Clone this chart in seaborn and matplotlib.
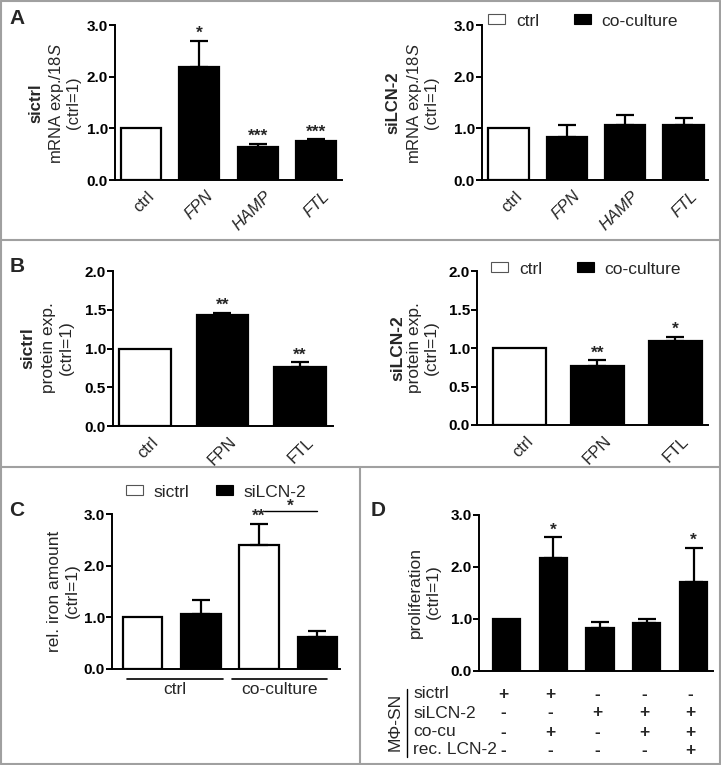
import numpy as np
import pandas as pd
import matplotlib
matplotlib.use("Agg")
import matplotlib.pyplot as plt
import seaborn as sns
from matplotlib.patches import Patch
from matplotlib.lines import Line2D
import matplotlib.transforms as mtransforms

sns.set_theme(style="ticks")
plt.rcParams['font.family'] = ['Liberation Sans', 'DejaVu Sans']
plt.rcParams['mathtext.fontset'] = 'custom'
plt.rcParams['mathtext.it'] = 'Liberation Sans:italic'
plt.rcParams['mathtext.rm'] = 'Liberation Sans'

# ---------------- data ----------------
a_labels = ["ctrl", "FPN", "HAMP", "FTL"]
a_sictrl_mean = [1.0, 2.18, 0.64, 0.75]
a_sictrl_err = [0.0, 0.51, 0.06, 0.04]
a_sictrl_sig = ["", "*", "***", "***"]
a_silcn_mean = [1.0, 0.84, 1.06, 1.06]
a_silcn_err = [0.0, 0.22, 0.19, 0.14]
a_silcn_sig = ["", "", "", ""]

b_labels = ["ctrl", "FPN", "FTL"]
b_sictrl_mean = [1.0, 1.43, 0.76]
b_sictrl_err = [0.0, 0.03, 0.06]
b_sictrl_sig = ["", "**", "**"]
b_silcn_mean = [1.0, 0.765, 1.09]
b_silcn_err = [0.0, 0.075, 0.055]
b_silcn_sig = ["", "**", "*"]

c_groups = ["ctrl", "co-culture"]
c_sirna = ["sictrl", "siLCN-2", "sictrl", "siLCN-2"]
c_mean = [1.0, 1.06, 2.40, 0.62]
c_err = [0.0, 0.28, 0.41, 0.12]
c_sig = ["", "", "**", ""]

d_mean = [1.0, 2.18, 0.83, 0.925, 1.72]
d_err = [0.0, 0.39, 0.11, 0.075, 0.65]
d_sig = ["", "*", "", "", "*"]
d_rows = ["sictrl", "siLCN-2", "co-cu", "rec. LCN-2"]
d_table = [["+", "+", "-", "-", "-"],
           ["-", "-", "+", "+", "+"],
           ["-", "+", "-", "+", "+"],
           ["-", "-", "-", "-", "+"]]

W, H = 721, 765
fig = plt.figure(figsize=(W / 100, H / 100), dpi=100)
fig.patch.set_facecolor("white")


def add_ax(left, top, right, bottom):
    return fig.add_axes([left / W, 1 - bottom / H, (right - left) / W, (bottom - top) / H])


def fx(x):
    return x / W


def fy(y):
    return 1 - y / H


def draw_bars(ax, means, errs, colors, width, xlim, ymax, yticks, sigs):
    n = len(means)
    keys = [f"b{i}" for i in range(n)]
    df = pd.DataFrame({"key": keys, "val": means})
    sns.barplot(data=df, x="key", y="val", hue="key", palette=dict(zip(keys, colors)),
                width=width, saturation=1, edgecolor="black", linewidth=1.6,
                errorbar=None, legend=False, ax=ax)
    idx = [i for i in range(n) if errs[i] > 0]
    ax.errorbar(idx, [means[i] for i in idx],
                yerr=[[0] * len(idx), [errs[i] for i in idx]],
                fmt="none", ecolor="black", elinewidth=1.6, capsize=6.8,
                capthick=1.6, zorder=5)
    for i in range(n):
        if sigs[i]:
            ax.annotate(sigs[i], (i, means[i] + errs[i]), xytext=(0, 2),
                        textcoords="offset points", ha="center", va="baseline",
                        fontsize=12.5, fontweight="bold", annotation_clip=False)
    ax.set_xlim(*xlim)
    ax.set_ylim(0, ymax)
    ax.set_yticks(yticks)
    ax.set_yticklabels([f"{t:.1f}" for t in yticks], fontweight="bold", fontsize=11)
    ax.set_xlabel("")
    ax.set_ylabel("")
    sns.despine(ax=ax)
    for s in ["left", "bottom"]:
        ax.spines[s].set_linewidth(1.4)
        ax.spines[s].set_color("black")
    ax.tick_params(axis="y", length=4, width=1.4, pad=1, direction="out", colors="black")
    ax.tick_params(axis="x", length=0)
    ax.set_facecolor("none")


def rot_xlabels(ax, labels, italic_mask):
    ax.set_xticks(range(len(labels)))
    ax.set_xticklabels(labels, rotation=45, ha="right", rotation_mode="anchor", fontsize=12)
    ax.tick_params(axis="x", pad=6)
    off = mtransforms.ScaledTranslation(6 / 100, 0, fig.dpi_scale_trans)
    for lab, it in zip(ax.get_xticklabels(), italic_mask):
        lab.set_transform(lab.get_transform() + off)
        if it:
            lab.set_fontstyle("italic")


def ylabels(items, size=12.5):
    for x, y, txt, bold in items:
        fig.text(fx(x), fy(y), txt, rotation=90, ha="center", va="center",
                 fontsize=size, fontweight="bold" if bold else "normal")


def legend(x, y, labels, colspace):
    handles = [Patch(facecolor="white", edgecolor="#555555", linewidth=0.8),
               Patch(facecolor="black", edgecolor="black", linewidth=0.8)]
    fig.legend(handles, labels, loc="center left", bbox_to_anchor=(fx(x), fy(y)),
               ncol=2, frameon=False, fontsize=12.5, handlelength=1.0,
               handleheight=0.5, handletextpad=0.6, columnspacing=colspace,
               borderpad=0, borderaxespad=0)


ctrl_colors4 = ["white", "black", "black", "black"]
ctrl_colors3 = ["white", "black", "black"]

# ---------------- Panel A ----------------
axA1 = add_ax(115, 25, 342, 180)
draw_bars(axA1, a_sictrl_mean, a_sictrl_err, ctrl_colors4, 0.69, (-0.446, 3.446), 3.0,
          [0, 1, 2, 3], a_sictrl_sig)
rot_xlabels(axA1, a_labels, [False, True, True, True])
ylabels([(36, 103, "sictrl", True), (57, 103, r"mRNA exp./$\mathit{18S}$", False),
         (74, 103, "(ctrl=1)", False)], size=12)

axA2 = add_ax(482, 25, 708, 180)
draw_bars(axA2, a_silcn_mean, a_silcn_err, ctrl_colors4, 0.69, (-0.455, 3.42), 3.0,
          [0, 1, 2, 3], a_silcn_sig)
rot_xlabels(axA2, a_labels, [False, True, True, True])
ylabels([(393, 103, "siLCN-2", True), (414, 103, r"mRNA exp./$\mathit{18S}$", False),
         (432, 103, "(ctrl=1)", False)], size=12)
legend(488, 21, ["ctrl", "co-culture"], 2.0)

# ---------------- Panel B ----------------
axB1 = add_ax(113, 271, 333, 426)
draw_bars(axB1, b_sictrl_mean, b_sictrl_err, ctrl_colors3, 0.67, (-0.413, 2.426), 2.0,
          [0, 0.5, 1.0, 1.5, 2.0], b_sictrl_sig)
rot_xlabels(axB1, b_labels, [False, False, False])
ylabels([(28, 348, "sictrl", True), (49, 348, "protein exp.", False),
         (66, 348, "(ctrl=1)", False)])

axB2 = add_ax(477, 271, 708, 425)
draw_bars(axB2, b_silcn_mean, b_silcn_err, ctrl_colors3, 0.67, (-0.545, 2.417), 2.0,
          [0, 0.5, 1.0, 1.5, 2.0], b_silcn_sig)
rot_xlabels(axB2, b_labels, [False, False, False])
ylabels([(398, 348, "siLCN-2", True), (414, 348, "protein exp.", False),
         (431, 348, "(ctrl=1)", False)])
legend(491, 269, ["ctrl", "co-culture"], 2.0)

# ---------------- Panel C ----------------
axC = add_ax(112, 514, 340, 669)
c_colors = ["white" if s == "sictrl" else "black" for s in c_sirna]
draw_bars(axC, c_mean, c_err, c_colors, 0.68, (-0.523, 3.388), 3.0, [0, 1, 2, 3], c_sig)
axC.set_xticks([])
tC = mtransforms.blended_transform_factory(axC.transData, fig.transFigure)
for (x0, x1), name in zip([(-0.27, 1.38), (1.535, 3.16)], c_groups):
    axC.add_line(Line2D([x0, x1], [fy(679), fy(679)], transform=tC, color="black",
                        lw=1.2, clip_on=False))
    axC.text((x0 + x1) / 2, fy(689), name, transform=tC, ha="center", va="center",
             fontsize=12.5)
# significance bracket between co-culture bars
axC.plot([2.08, 2.99], [3.06, 3.06], color="black", lw=1.0, clip_on=False)
axC.text(2.53, 3.07, "*", ha="center", va="baseline", fontsize=12.5, fontweight="bold")
ylabels([(55, 591, "rel. iron amount", False), (72, 591, "(ctrl=1)", False)])
legend(126, 492, ["sictrl", "siLCN-2"], 1.5)

# ---------------- Panel D ----------------
axD = add_ax(479, 515, 713, 671)
draw_bars(axD, d_mean, d_err, ["black"] * 5, 0.58, (-0.588, 4.417), 3.0, [0, 1, 2, 3], d_sig)
axD.set_xticks([])
ylabels([(415, 592, "proliferation", False), (433, 592, "(ctrl=1)", False)])
tD = mtransforms.blended_transform_factory(axD.transData, fig.transFigure)
row_y = [694, 713, 732, 750]
for r, (name, yy) in enumerate(zip(d_rows, row_y)):
    fig.text(fx(413), fy(yy), name, ha="left", va="center", fontsize=12.5)
    for i, sgn in enumerate(d_table[r]):
        axD.text(i - 0.06, fy(yy), sgn, transform=tD, ha="center", va="center",
                 fontsize=12.5, fontweight="bold")
fig.add_artist(Line2D([fx(407), fx(407)], [fy(689), fy(757)], transform=fig.transFigure,
                      color="black", lw=1.0))
fig.text(fx(395), fy(722), "MΦ-SN", rotation=90, ha="center", va="center", fontsize=12.5)

# ---------------- panel letters ----------------
for x, y, s in [(17, 18, "A"), (17, 266, "B"), (17, 510, "C"), (378, 510, "D")]:
    fig.text(fx(x), fy(y), s, ha="center", va="center", fontsize=15, fontweight="bold")

# ---------------- frames ----------------
grey = "#a0a0a0"
for (x0, y0, x1, y1) in [(1, 1, 720, 1), (1, 763.5, 720, 763.5), (1, 1, 1, 764),
                         (719.5, 1, 719.5, 764), (1, 240, 720, 240), (1, 467, 720, 467),
                         (360, 467, 360, 764)]:
    fig.add_artist(Line2D([fx(x0), fx(x1)], [fy(y0), fy(y1)], transform=fig.transFigure,
                          color=grey, lw=1.5))

fig.savefig("out.png", dpi=100)
